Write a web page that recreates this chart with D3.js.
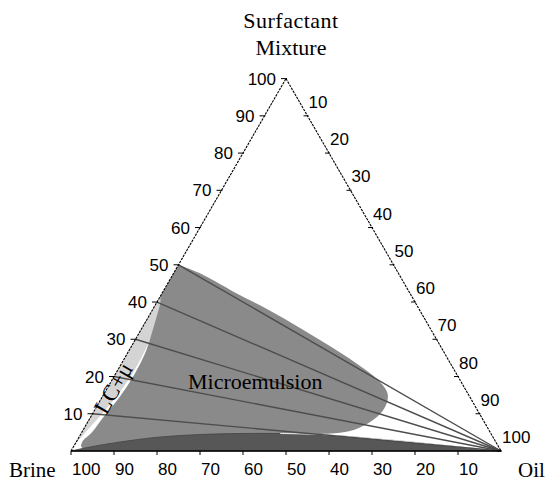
<!DOCTYPE html>
<html>
<head>
<meta charset="utf-8">
<script src="https://cdn.jsdelivr.net/npm/d3@7"></script>
<style>
  html, body { margin: 0; padding: 0; background: #fff; }
  svg { display: block; }
  .tick-label { font-family: "Liberation Sans", Arial, sans-serif; font-size: 17px; fill: #000; }
  .serif { font-family: "Liberation Serif", "Times New Roman", serif; fill: #000; }
</style>
</head>
<body>
<svg id="chart" width="546" height="483"></svg>
<script>
// Ternary phase diagram: brine / oil / surfactant mixture (compositions in %)
const tickValues = [10, 20, 30, 40, 50, 60, 70, 80, 90, 100];
const brineTickValues = [100, 90, 80, 70, 60, 50, 40, 30, 20, 10];
const tieLineSurfactant = [50, 40, 30, 20, 10];

// Boundaries as [surfactant %, oil %]
const lcMuBoundary = [
  [42.5, 0], [40.5, 1.0], [36, 2.2], [31.5, 3.2], [27, 3.7], [22.5, 3.9],
  [18.2, 3.7], [13.5, 3.0], [9.2, 2.0], [4.75, 0.8], [2.2, 0.2], [1.2, 0]
];
const microTopBoundary = [
  [50, 0], [47.7, 6.15], [42.86, 16.24], [38.13, 26.5], [33.03, 36.75], [27.66, 47.1],
  [22.29, 56.76], [18.53, 62.6], [15.57, 65.8], [12.89, 67.0], [9.94, 66.9],
  [7.25, 65.2], [5.37, 62.2], [4.7, 57.9], [4.56, 54.7]
];
const microLeftBoundary = [
  [1.4, 1.6], [2.8, 1.4], [4.75, 2.3], [9.2, 3.0], [13.5, 3.9], [18.2, 4.4],
  [22.5, 4.4], [27, 4.0], [31.5, 3.0], [36, 1.9], [40, 0.8], [41.5, 0]
];
const twoPhaseBoundary = [
  [0, 0], [1.07, 3.9], [2.42, 10.2], [3.76, 18.8], [4.43, 27.8], [4.7, 37],
  [4.7, 46.3], [4.43, 55.7], [3.63, 65.4], [2.69, 75.2], [1.61, 85], [0.8, 92.4], [0, 100]
];

const svg = d3.select("#chart");

// x follows (oil + surfactant/2), y follows surfactant
const xScale = d3.scaleLinear().domain([0, 100]).range([71, 501]);
const yScale = d3.scaleLinear().domain([0, 100]).range([451, 78.6]);
const project = (s, o) => [xScale(o + s / 2), yScale(s)];

const curve = d3.line()
  .x(d => project(d[0], d[1])[0])
  .y(d => project(d[0], d[1])[1])
  .curve(d3.curveCatmullRom.alpha(0.5));
const join = (...parts) => parts.map((p, i) => i ? p.replace(/^M/, "L") : p).join("");
const pt = (s, o) => { const p = project(s, o); return `M${p[0]},${p[1]}`; };

// LC + microemulsion region
svg.append("path")
  .attr("d", curve(lcMuBoundary) + "Z")
  .attr("fill", "#d4d4d4");

// Microemulsion region
svg.append("path")
  .attr("d", join(curve(microTopBoundary), pt(0, 57), pt(0, 3), curve(microLeftBoundary)) + "Z")
  .attr("fill", "#8a8a8a");

// Two-phase region along the brine-oil side
svg.append("path")
  .attr("d", curve(twoPhaseBoundary) + "Z")
  .attr("fill", "#575757")
  .attr("stroke", "#444")
  .attr("stroke-width", 0.8);

svg.append("path")
  .attr("d", curve(twoPhaseBoundary.slice(6)))
  .attr("fill", "none")
  .attr("stroke", "#fff")
  .attr("stroke-width", 1);

// Tie lines converging on the oil corner
svg.selectAll(".tie").data(tieLineSurfactant).join("line")
  .attr("class", "tie")
  .attr("x1", d => project(d, 0)[0]).attr("y1", d => project(d, 0)[1])
  .attr("x2", project(0, 100)[0]).attr("y2", project(0, 100)[1])
  .attr("stroke", "#4d4d4d").attr("stroke-width", 1.4);

// Triangle edges
const B = project(0, 0), O = project(0, 100), S = project(100, 0);
svg.append("line").attr("x1", B[0]).attr("y1", B[1]).attr("x2", S[0]).attr("y2", S[1])
  .attr("stroke", "#000").attr("stroke-width", 1.1).attr("stroke-dasharray", "2.5,1");
svg.append("line").attr("x1", S[0]).attr("y1", S[1]).attr("x2", O[0]).attr("y2", O[1])
  .attr("stroke", "#000").attr("stroke-width", 1.1).attr("stroke-dasharray", "2.5,1");
svg.append("line").attr("x1", B[0]).attr("y1", B[1]).attr("x2", O[0]).attr("y2", O[1])
  .attr("stroke", "#000").attr("stroke-width", 1.6);

// Surfactant axis (left edge)
const left = svg.append("g");
tickValues.forEach(v => {
  const [x, y] = project(v, 0);
  left.append("line").attr("x1", x - 5).attr("y1", y).attr("x2", x + 1).attr("y2", y)
    .attr("stroke", "#000").attr("stroke-width", 1);
  left.append("text").attr("class", "tick-label")
    .attr("x", x - 10).attr("y", y + 6).attr("text-anchor", "end").text(v);
});

// Oil axis (right edge)
const right = svg.append("g");
tickValues.forEach(v => {
  const [x, y] = project(100 - v, v);
  right.append("line").attr("x1", x - 4).attr("y1", y).attr("x2", x + 1).attr("y2", y)
    .attr("stroke", "#000").attr("stroke-width", 1);
  right.append("text").attr("class", "tick-label")
    .attr("x", x + 1).attr("y", y - 8).attr("text-anchor", "start").text(v);
});

// Brine axis (bottom edge)
const bottom = svg.append("g");
brineTickValues.forEach(v => {
  const [x, y] = project(0, 100 - v);
  bottom.append("line").attr("x1", x).attr("y1", y).attr("x2", x).attr("y2", y + 4)
    .attr("stroke", "#000").attr("stroke-width", 1);
  bottom.append("text").attr("class", "tick-label")
    .attr("x", x + 1).attr("y", 475).attr("text-anchor", "start").text(v);
});

// Corner and region labels
svg.append("text").attr("class", "serif").attr("x", 291).attr("y", 28)
  .attr("text-anchor", "middle").style("font-size", "22px").style("letter-spacing", "0.5px").text("Surfactant");
svg.append("text").attr("class", "serif").attr("x", 291).attr("y", 55)
  .attr("text-anchor", "middle").style("font-size", "22px").text("Mixture");
svg.append("text").attr("class", "serif").attr("x", 9).attr("y", 477)
  .style("font-size", "21px").text("Brine");
svg.append("text").attr("class", "serif").attr("x", 518).attr("y", 477)
  .style("font-size", "21px").text("Oil");
svg.append("text").attr("class", "serif").attr("x", 188).attr("y", 389)
  .style("font-size", "22px").text("Microemulsion");
svg.append("text").attr("class", "serif")
  .attr("transform", "translate(120,392) rotate(-60)")
  .attr("text-anchor", "middle").style("font-size", "23px").text("LC+μ");
</script>
</body>
</html>
